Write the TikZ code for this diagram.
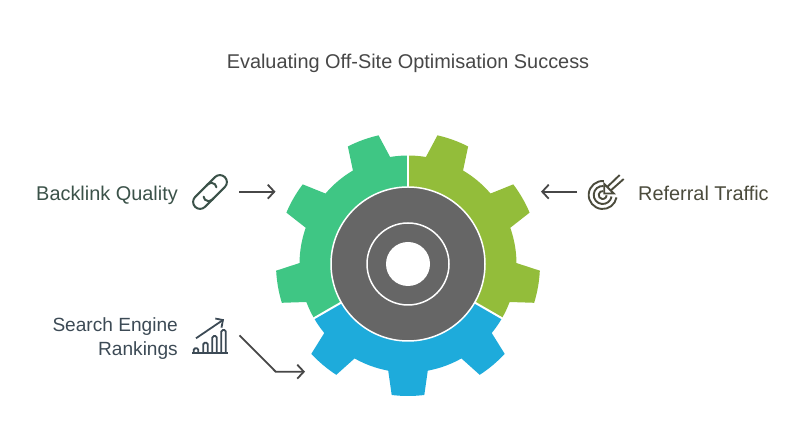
\documentclass[tikz,border=0pt]{standalone}
\usepackage{fontspec}
\setmainfont{Liberation Sans}
\usetikzlibrary{arrows.meta}
\definecolor{gearleft}{HTML}{3FC684}
\definecolor{gearright}{HTML}{93BD3A}
\definecolor{gearbottom}{HTML}{1EABDB}
\definecolor{geardark}{HTML}{666666}
\definecolor{linkcol}{HTML}{3B5249}
\definecolor{targetcol}{HTML}{4B4B3C}
\definecolor{chartcol}{HTML}{3C4A55}
\tikzset{
	>={Straight Barb[length=6.5pt,width=14pt]},
	connector/.style={->, draw=black!72, line width=1.8pt},
	label/.style={inner sep=0pt, font=\fontsize{19.9}{24}\selectfont},
}
\newcommand{\gearpart}[3] % {colour}{from angle}{to angle}
{
	\begin{scope}
		\clip (0,0) -- (#2:400) -- (#3:400) -- cycle;
		\fill[#1] (-100.5:108.5) foreach \a in {-90,-50,...,230} {
			-- (\a-7.1:132) arc [start angle=\a-7.1, end angle=\a+7.1, radius=132]
			-- (\a+10.5:108.5) arc [start angle=\a+10.5, end angle=\a+29.5, radius=108.5]
		} -- cycle;
	\end{scope}
}
\newcommand{\linkicon}[2] % {x}{y}
{
	\begin{scope}[shift={(#1,#2)}, rotate=45, linkcol, line width=2pt, line cap=round]
		\draw (2,7) -- (14,7) arc [start angle=90, end angle=-90, radius=7] -- (-4,-7) arc [start angle=270, end angle=140, radius=5];
		\draw (-2,-7) -- (-14,-7) arc [start angle=270, end angle=90, radius=7] -- (4,7) arc [start angle=90, end angle=-40, radius=5];
	\end{scope}
}
\newcommand{\targeticon}[2] % {x}{y}
{
	\begin{scope}[shift={(#1,#2)}, targetcol, line width=1.9pt]
		\draw (85:14) arc [start angle=85, end angle=350, radius=14];
		\draw (85:9) arc [start angle=85, end angle=350, radius=9];
		\draw (80:4) arc [start angle=80, end angle=355, radius=4];
		\draw (1.5,11) -- (1.5,1.5) -- (11,1.5) -- cycle;
		\draw (4.5,8) -- (17,20);
		\draw (8,4.5) -- (21,16);
	\end{scope}
}
\newcommand{\charticon}[2] % {x}{y}
{
	\begin{scope}[shift={(#1,#2)}, chartcol, line width=1.8pt]
		\draw (0,0) -- (35.4,0);
		\foreach \x/\h in {1.5/4.5,11/10,20/16.7,29/22.7}
			\draw[rounded corners=1.5pt] (\x,0) -- (\x,\h) -- (\x+4.5,\h) -- (\x+4.5,0);
	\end{scope}
}
\begin{document}
\begin{tikzpicture}[x=1pt,y=1pt]
	\useasboundingbox (0,0) rectangle (804,446);

	\node[label, text=black!72] (title) at (408,383) {Evaluating Off-Site Optimisation Success};

	\begin{scope}[shift={(408,182)}]
		\gearpart{gearleft}{90}{210}
		\gearpart{gearright}{-30}{90}
		\gearpart{gearbottom}{210}{330}
		\draw[white, line width=2pt] (90:70) -- (90:140);
		\draw[white, line width=2pt] (-30:70) -- (-30:140);
		\draw[white, line width=2pt] (210:70) -- (210:140);
		\draw[white, line width=1.5pt, fill=geardark] (0,0) circle [radius=77];
		\draw[white, line width=1.5pt] (0,0) circle [radius=41];
		\fill[white] (0,0) circle [radius=22];
	\end{scope}

	\node[label, anchor=east, text=linkcol] (backlink) at (178,251) {Backlink Quality};
	\node[label, anchor=west, text=targetcol] (referral) at (638,252.5) {Referral Traffic};
	\node[label, anchor=east, align=right, text=chartcol, font=\fontsize{19.1}{24}\selectfont] (search) at (178,107.5) {Search Engine\\Rankings};

	\linkicon{210}{254}
	\targeticon{602.7}{251}
	\charticon{192.3}{93.3}

	% arrows into the gear
	\coordinate (backlinkout) at (239,254.3);
	\coordinate (backlinkin) at (275.5,254.3);
	\coordinate (referralout) at (577,254.3);
	\coordinate (referralin) at (541,254.3);
	\coordinate (searchout) at (239.5,110.7);
	\coordinate (searchbend) at (275.7,74.3);
	\coordinate (searchin) at (305,74.3);
	\coordinate (charttail) at (196,107.7);
	\coordinate (charthead) at (224,126.7);
	\draw[connector] (backlinkout) -- (backlinkin);
	\draw[connector] (referralout) -- (referralin);
	\draw[connector] (searchout) -- (searchbend) -- (searchin);
	\draw[->, chartcol, line width=1.8pt, >={Straight Barb[length=5.5pt,width=11pt]}] (charttail) -- (charthead);
\end{tikzpicture}
\end{document}
